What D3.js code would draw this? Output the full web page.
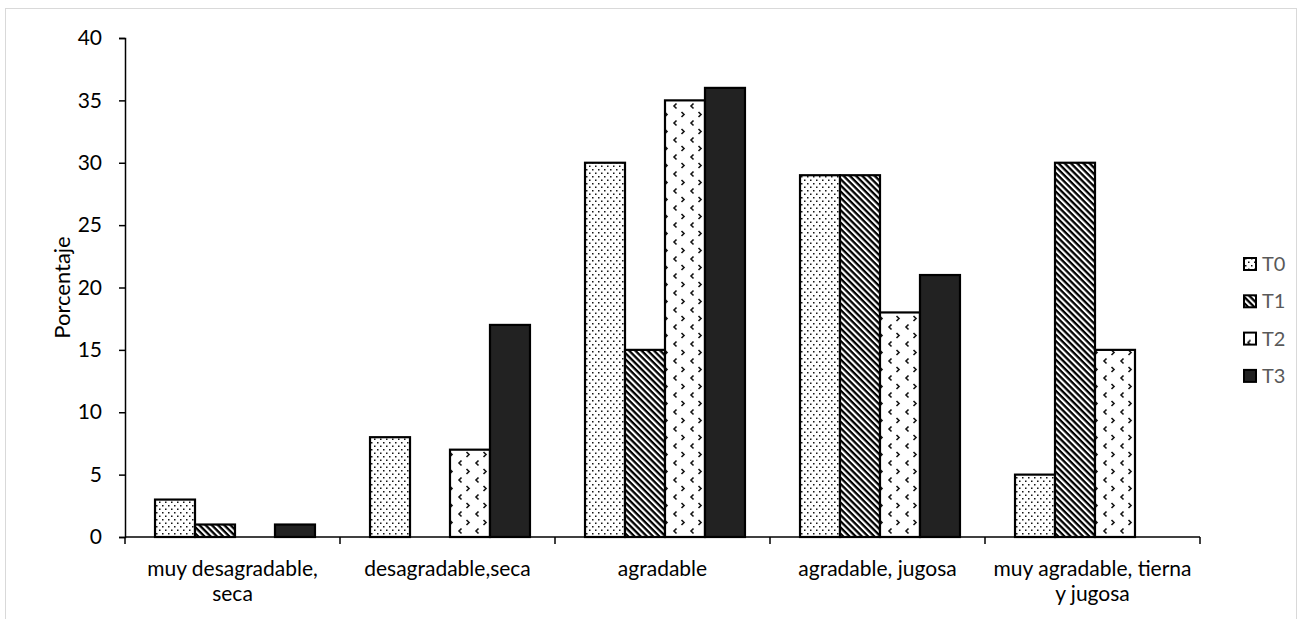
<!DOCTYPE html>
<html>
<head>
<meta charset="utf-8">
<script src="https://cdn.jsdelivr.net/npm/d3@7"></script>
<style>
  html, body { margin: 0; padding: 0; background: #fff; }
  svg { display: block; font-family: Lato, "Open Sans", sans-serif; }
</style>
</head>
<body>
<svg id="chart" width="1305" height="619"></svg>
<script>
// Texture categories (label lines) and percentage per treatment
const categories = ["muy desagradable, seca", "desagradable,seca", "agradable", "agradable, jugosa", "muy agradable, tierna y jugosa"];
const categoryLines = [["muy desagradable,", "seca"], ["desagradable,seca"], ["agradable"], ["agradable, jugosa"], ["muy agradable, tierna", "y jugosa"]];
const seriesNames = ["T0", "T1", "T2", "T3"];
const T0 = [3, 8, 30, 29, 5];
const T1 = [1, 0, 15, 29, 30];
const T2 = [0, 7, 35, 18, 15];
const T3 = [1, 17, 36, 21, 0];
const yTicks = [0, 5, 10, 15, 20, 25, 30, 35, 40];
const yLabel = "Porcentaje";

const seriesValues = [T0, T1, T2, T3];
const FONT = 22;

const svg = d3.select("#chart");

// outer frame
svg.append("rect")
  .attr("x", 5.5).attr("y", 8.5).attr("width", 1291).attr("height", 630)
  .attr("fill", "none").attr("stroke", "#d9d9d9").attr("stroke-width", 1);

// fill patterns
const defs = svg.append("defs");

// T0: fine staggered dots
const p0 = defs.append("pattern").attr("id", "pat-T0")
  .attr("patternUnits", "userSpaceOnUse").attr("width", 6).attr("height", 7);
p0.append("rect").attr("width", 6).attr("height", 7).attr("fill", "#fff");
p0.append("rect").attr("x", 1).attr("y", 1).attr("width", 1.5).attr("height", 1.5).attr("fill", "#111");
p0.append("rect").attr("x", 4).attr("y", 4.5).attr("width", 1.5).attr("height", 1.5).attr("fill", "#111");

// T1: dense diagonal stripes running down to the right
const p1 = defs.append("pattern").attr("id", "pat-T1")
  .attr("patternUnits", "userSpaceOnUse").attr("width", 4.4).attr("height", 4.4)
  .attr("patternTransform", "rotate(45)");
p1.append("rect").attr("width", 4.4).attr("height", 4.4).attr("fill", "#fff");
p1.append("rect").attr("x", 0).attr("y", 0).attr("width", 4.4).attr("height", 2.3).attr("fill", "#000");

// T2: sparse chevrons
const p2 = defs.append("pattern").attr("id", "pat-T2")
  .attr("patternUnits", "userSpaceOnUse").attr("width", 17).attr("height", 17);
p2.append("rect").attr("width", 17).attr("height", 17).attr("fill", "#fff");
p2.append("path").attr("d", "M6.5,1.5 L4,4 L6.5,6.5").attr("fill", "none").attr("stroke", "#111").attr("stroke-width", 1.6);
p2.append("path").attr("d", "M11.5,10 L14,12.5 L11.5,15").attr("fill", "none").attr("stroke", "#111").attr("stroke-width", 1.6);

const fills = ["url(#pat-T0)", "url(#pat-T1)", "url(#pat-T2)", "#222"];

// scales
const plot = { left: 125, right: 1200, top: 38, bottom: 537 };
const x0 = d3.scaleBand().domain(categories).range([plot.left + 2.5, plot.right + 2.5]).paddingInner(0.256).paddingOuter(0.128);
const x1 = d3.scaleBand().domain(seriesNames).range([0, x0.bandwidth()]);
const y = d3.scaleLinear().domain([0, 40]).range([plot.bottom, plot.top]);

// bars
const groups = svg.append("g").selectAll("g")
  .data(categories).join("g")
  .attr("transform", d => `translate(${x0(d)},0)`);

groups.selectAll("rect")
  .data((c, i) => seriesNames.map((s, j) => ({ s, j, v: seriesValues[j][i] })))
  .join("rect")
  .filter(d => d.v > 0)
  .attr("x", d => x1(d.s))
  .attr("y", d => y(d.v))
  .attr("width", x1.bandwidth())
  .attr("height", d => y(0) - y(d.v))
  .attr("fill", d => fills[d.j])
  .attr("stroke", "#000").attr("stroke-width", 2.2);

// y axis
const yAxis = svg.append("g").attr("transform", `translate(${plot.left},0)`)
  .call(d3.axisLeft(y).tickValues(yTicks).tickSize(6).tickSizeOuter(6).tickPadding(17));
yAxis.select(".domain").attr("stroke", "#000").attr("stroke-width", 1.5);
yAxis.selectAll(".tick line").attr("stroke", "#000").attr("stroke-width", 1.5);
yAxis.selectAll("text").attr("font-size", FONT - 1).attr("fill", "#000").attr("font-family", "Lato, sans-serif");

// x axis: category boundary ticks below the baseline
const xAxisG = svg.append("g");
xAxisG.append("line")
  .attr("x1", plot.left).attr("x2", plot.right)
  .attr("y1", y(0)).attr("y2", y(0))
  .attr("stroke", "#000").attr("stroke-width", 1.5);
const step = (plot.right - plot.left) / categories.length;
const boundaries = d3.range(categories.length + 1).map(k => plot.left + k * step);
xAxisG.selectAll("line.bt").data(boundaries).join("line").attr("class", "bt")
  .attr("x1", d => d).attr("x2", d => d)
  .attr("y1", y(0)).attr("y2", y(0) + 7)
  .attr("stroke", "#000").attr("stroke-width", 1.5);

// category labels, one text per line
const labelFont = 21;
const labelRows = [];
categoryLines.forEach((lines, i) => lines.forEach((l, k) => labelRows.push({ i, k, l })));
xAxisG.selectAll("text.cat").data(labelRows).join("text")
  .attr("class", "cat")
  .attr("text-anchor", "middle")
  .attr("font-size", labelFont)
  .attr("fill", "#000")
  .attr("x", d => plot.left + (d.i + 0.5) * step)
  .attr("y", d => 576 + d.k * 25)
  .text(d => d.l);

// y axis title
svg.append("text")
  .attr("transform", `translate(70,${(plot.top + plot.bottom) / 2}) rotate(-90)`)
  .attr("text-anchor", "middle")
  .attr("font-size", FONT)
  .attr("fill", "#000")
  .text(yLabel);

// legend
const legend = svg.append("g").selectAll("g").data(seriesNames).join("g")
  .attr("transform", (d, i) => `translate(1244,${264 + i * 37.3})`);
legend.append("rect")
  .attr("x", 0).attr("y", -6).attr("width", 12).attr("height", 12)
  .attr("fill", (d, i) => fills[i])
  .attr("stroke", "#000").attr("stroke-width", 2);
legend.append("text")
  .attr("x", 18).attr("y", 0).attr("dy", "0.35em")
  .attr("font-size", FONT - 2).attr("fill", "#595959")
  .text(d => d);
</script>
</body>
</html>
